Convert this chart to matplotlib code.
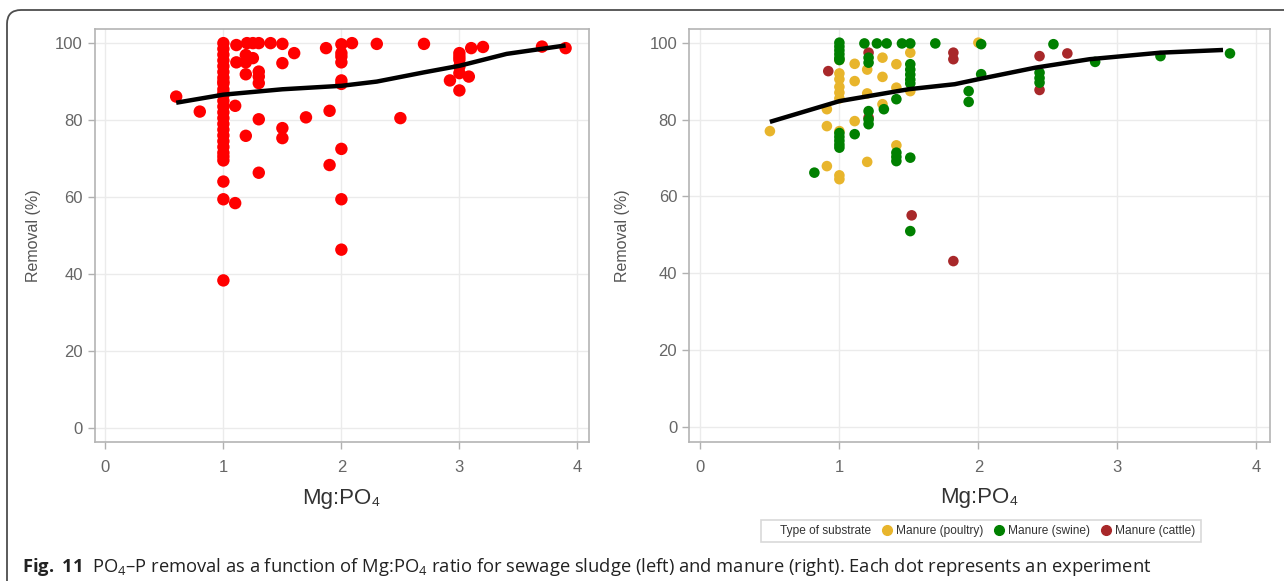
import numpy as np
import matplotlib.pyplot as plt
from matplotlib.lines import Line2D
from matplotlib.patches import FancyBboxPatch
from matplotlib.transforms import IdentityTransform

plt.rcParams['font.family'] = ['Liberation Sans Narrow', 'Liberation Sans', 'DejaVu Sans']
plt.rcParams['mathtext.fontset'] = 'custom'
plt.rcParams['mathtext.rm'] = 'Open Sans'
plt.rcParams['mathtext.bf'] = 'Open Sans:bold'

# Sewage sludge (left panel)
sludge_x = [0.6, 0.8,
            1.0, 1.0, 1.0, 1.0, 1.0, 1.0, 1.0, 1.0, 1.0, 1.0, 1.0, 1.0, 1.0, 1.0,
            1.0, 1.0, 1.0, 1.0, 1.0, 1.0, 1.0, 1.0, 1.0, 1.0, 1.0, 1.0, 1.0,
            1.11, 1.11, 1.1, 1.1, 1.19, 1.19, 1.19, 1.19, 1.2, 1.25, 1.25,
            1.3, 1.3, 1.3, 1.3, 1.3, 1.3, 1.4, 1.5, 1.5, 1.5, 1.5, 1.6, 1.7,
            1.87, 1.9, 1.9, 2.0, 2.0, 2.0, 2.0, 2.0, 2.0, 2.0, 2.0, 2.0, 2.09,
            2.3, 2.5, 2.7, 2.92, 3.0, 3.0, 3.0, 3.0, 3.0, 3.0, 3.08, 3.1,
            3.2, 3.7, 3.9]
sludge_y = [86.1, 82.2,
            100, 98.5, 97, 95.5, 94, 92.5, 91, 89.5, 88, 86.5, 85, 83.5, 82,
            80.5, 79, 77.5, 76, 74.5, 73, 71.5, 70.5, 69.5, 64, 59.4, 38.3, 87, 90,
            99.5, 95, 83.7, 58.4, 96.9, 95, 91.9, 75.9, 100, 100, 96.1,
            100, 92.6, 91.3, 89.6, 80.2, 66.3, 100, 99.8, 94.8, 77.9, 75.3, 97.4, 80.7,
            98.7, 82.4, 68.3, 99.7, 97.4, 96.5, 95, 90.3, 89.4, 72.5, 59.4, 46.3, 100,
            99.8, 80.5, 99.8, 90.3, 97.4, 96.5, 95.7, 93.9, 92.2, 87.7, 91.3, 98.7,
            99, 99.1, 98.7]
sludge_fit_x = [0.6, 1.0, 1.5, 2.0, 2.3, 2.7, 3.0, 3.4, 3.9]
sludge_fit_y = [84.5, 86.6, 88.0, 88.9, 90.0, 92.4, 94.1, 97.2, 99.4]

# Manure (right panel)
poultry_x = [0.5, 0.91, 0.91, 0.91, 1.0, 1.0, 1.0, 1.0, 1.0, 1.0, 1.0, 1.0, 1.0,
             1.11, 1.11, 1.11, 1.2, 1.2, 1.2, 1.31, 1.31, 1.31, 1.41, 1.41, 1.41,
             1.51, 1.51, 2.0]
poultry_y = [77, 82.7, 78.3, 67.9, 95.5, 92, 90.5, 88.5, 87, 85.5, 77, 65.5, 64.5,
             94.5, 90, 79.6, 93, 86.8, 69, 96.1, 91.1, 84, 94.4, 88.3, 73.3,
             97.4, 87.4, 100]
swine_x = [1.0, 1.0, 1.0, 1.0, 1.0, 1.0, 1.0, 1.0, 1.0, 1.0, 1.0, 0.82, 1.11,
           1.18, 1.21, 1.21, 1.21, 1.21, 1.21, 1.27, 1.34, 1.32, 1.41, 1.45, 1.41,
           1.41, 1.41, 1.51, 1.51, 1.51, 1.51, 1.51, 1.51, 1.51, 1.51, 1.69,
           1.93, 1.93, 2.02, 2.02, 2.44, 2.44, 2.44, 2.54, 2.84, 3.31, 3.81]
swine_y = [100, 99, 98, 97, 96, 95.5, 76.5, 75.5, 74.5, 73.5, 72.7, 66.2, 76.2,
           99.8, 96.1, 94.8, 82.2, 80, 78.8, 99.8, 99.8, 82.7, 85.3, 99.8, 71.4,
           70.3, 69.2, 99.8, 94.4, 93, 91.7, 90.4, 89.4, 70.1, 51, 99.8,
           87.4, 84.6, 99.6, 91.8, 92.2, 90.8, 89.6, 99.6, 95, 96.5, 97.2]
cattle_x = [0.92, 1.21, 1.21, 1.52, 1.82, 1.82, 1.82, 2.44, 2.44, 2.64]
cattle_y = [92.6, 97.4, 80.5, 55.1, 97.4, 95.7, 43.2, 96.5, 87.7, 97.2]
manure_fit_x = [0.5, 1.0, 1.21, 1.5, 1.83, 2.0, 2.41, 2.8, 3.31, 3.76]
manure_fit_y = [79.4, 84.8, 86.1, 87.9, 89.2, 90.5, 93.5, 95.7, 97.4, 98.1]

substrates = ['Manure (poultry)', 'Manure (swine)', 'Manure (cattle)']
sub_colors = ['#e8b52c', '#008000', '#a8282a']

xticks = [0, 1, 2, 3, 4]
yticks = [0, 20, 40, 60, 80, 100]

fig = plt.figure(figsize=(12.84, 5.81), dpi=100)
ax1 = fig.add_axes([0.0738, 0.2387, 0.3847, 0.7109])
ax2 = fig.add_axes([0.5366, 0.2395, 0.4525, 0.7109])


def style_axes(ax, xlim, ypad):
    ax.set_xlim(*xlim)
    ax.set_ylim(-3.8, 103.6)
    ax.set_xticks(xticks)
    ax.set_yticks(yticks)
    ax.grid(True, color='#ebebeb', lw=1.0, zorder=0)
    ax.set_axisbelow(True)
    for s in ax.spines.values():
        s.set_color('#b4b4b4')
        s.set_linewidth(1.2)
    ax.tick_params(colors='#b0b0b0', labelcolor='#666666', labelsize=12,
                   length=5, width=1)
    ax.tick_params(axis='x', pad=8)
    ax.set_ylabel('Removal (%)', fontsize=11.5, color='#555555', labelpad=ypad)
    ax.set_xlabel('Mg:PO₄', fontsize=16, color='#333333', labelpad=9)


style_axes(ax1, (-0.09, 4.096), 10)
ax1.scatter(sludge_x, sludge_y, s=80, color='#ff0000', edgecolors='none', zorder=3)
ax1.plot(sludge_fit_x, sludge_fit_y, color='black', lw=3.2, zorder=4,
         solid_capstyle='butt')

style_axes(ax2, (-0.082, 4.098), 14)
ax2.scatter(poultry_x, poultry_y, s=58, color=sub_colors[0], edgecolors='none', zorder=3)
ax2.scatter(cattle_x, cattle_y, s=58, color=sub_colors[2], edgecolors='none', zorder=3)
ax2.scatter(swine_x, swine_y, s=58, color=sub_colors[1], edgecolors='none', zorder=3)
ax2.plot(manure_fit_x, manure_fit_y, color='black', lw=3.2, zorder=4,
         solid_capstyle='butt')

# legend: first entry holds the title with an empty handle
handles = [Line2D([], [], ls='none', marker='none')]
labels = ['Type of substrate']
for name, c in zip(substrates, sub_colors):
    handles.append(Line2D([], [], ls='none', marker='o', ms=7, color=c))
    labels.append(name)
leg = fig.legend(handles, labels, loc='center', bbox_to_anchor=(981 / 1284, 1 - 531 / 581),
                 ncol=4, frameon=True, fancybox=False, fontsize=8.6,
                 handlelength=0.7, handletextpad=0.4, columnspacing=1.0,
                 borderpad=0.45)
leg.get_frame().set_edgecolor('#cfcfcf')
leg.get_frame().set_linewidth(1.2)
for t in leg.get_texts():
    t.set_color('#333333')

# caption
fig.text(22 / 1284, 1 - 567 / 581,
         r'$\bf{Fig.}$ $\bf{11}$  PO$_4$–P removal as a function of Mg:PO$_4$ ratio for sewage sludge (left) '
         r'and manure (right). Each dot represents an experiment',
         fontsize=13.2, family='Open Sans', color='#222222', va='center', ha='left')

# rounded outer frame
frame = FancyBboxPatch((7, -30), 1400, 581 - 10 + 30, boxstyle='round,pad=0,rounding_size=14',
                       transform=IdentityTransform(), fill=False, ec='#4d4d4d', lw=1.3)
fig.patches.append(frame)

fig.savefig('out.png', dpi=100)
